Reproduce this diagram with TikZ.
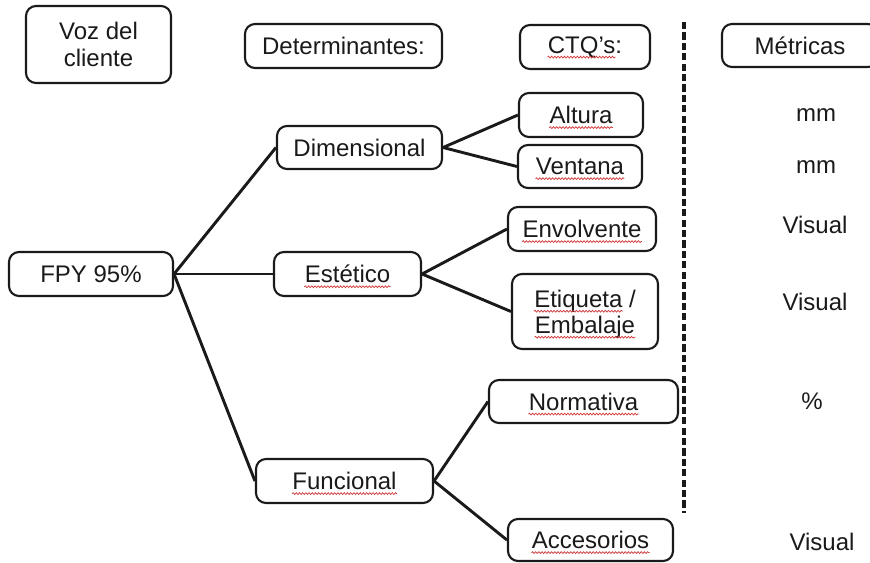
\documentclass[tikz,border=0pt]{standalone}
\usepackage{fontspec}
\setmainfont{Liberation Sans}
\usetikzlibrary{decorations.pathmorphing}
\definecolor{ink}{HTML}{1A1A1A}
\definecolor{spell}{HTML}{D03535}
\tikzset{
  box/.style={draw=ink, line width=1.05pt, rounded corners=5pt, inner sep=0pt},
  lbl/.style={inner sep=0pt, text=ink, font=\fontsize{12}{13.5}\selectfont, align=center},
  link/.style={draw=ink, line width=1.45pt},
  squig/.style={draw=spell, line width=0.35pt, decorate,
    decoration={snake, amplitude=0.45pt, segment length=1.6pt}},
  divider/.style={draw=ink, line width=1.7pt, dash pattern=on 3.6pt off 1.6pt},
}
\begin{document}
\begin{tikzpicture}[x=0.5pt, y=-0.5pt]
  \fill[white] (0,0) rectangle (870,562);
  \useasboundingbox (0,0) rectangle (870,562);
  \clip (0,0) rectangle (870,562);

  % header boxes
  \node[box, minimum width=72.5pt, minimum height=38.5pt] (voz) at (98.5,44.5) {};
  \node[lbl] (vozT) at (voz) {Voz del\\cliente};
  \node[box, minimum width=98.5pt, minimum height=22pt] (det) at (343.5,46) {};
  \node[lbl] (detT) at (det) {Determinantes:};
  \node[box, minimum width=65pt, minimum height=22pt] (ctq) at (585,47) {};
  \node[lbl] (ctqT) at (ctq) {CTQ’s:};
  \node[box, minimum width=78pt, minimum height=21.5pt] (met) at (800,45.5) {};
  \node[lbl] (metT) at (met) {Métricas};

  % root
  \node[box, minimum width=82pt, minimum height=22pt] (fpy) at (91,274) {};
  \node[lbl] (fpyT) at (fpy) {FPY 95\%};

  % determinants
  \node[box, minimum width=82.5pt, minimum height=21.5pt] (dim) at (359.5,147.5) {};
  \node[lbl] (dimT) at (dim) {Dimensional};
  \node[box, minimum width=73.5pt, minimum height=22pt] (est) at (347.5,274) {};
  \node[lbl] (estT) at (est) {Estético};
  \node[box, minimum width=88.5pt, minimum height=22pt] (fun) at (344.5,481) {};
  \node[lbl] (funT) at (fun) {Funcional};

  % CTQs
  \node[box, minimum width=62pt, minimum height=22pt] (alt) at (581,115) {};
  \node[lbl] (altT) at (alt) {Altura};
  \node[box, minimum width=62pt, minimum height=21.5pt] (ven) at (580,166.5) {};
  \node[lbl] (venT) at (ven) {Ventana};
  \node[box, minimum width=74pt, minimum height=22pt] (env) at (582,229) {};
  \node[lbl] (envT) at (env) {Envolvente};
  \node[box, minimum width=73pt, minimum height=37.5pt] (etq) at (585,311.5) {};
  \node[lbl] (etqA) at (585,301) {Etiqueta /};
  \node[lbl] (etqB) at (585,327) {Embalaje};
  \node[box, minimum width=94.5pt, minimum height=21.5pt] (nor) at (583.5,401.5) {};
  \node[lbl] (norT) at (nor) {Normativa};
  \node[box, minimum width=82.5pt, minimum height=21pt] (acc) at (590.5,540) {};
  \node[lbl] (accT) at (acc) {Accesorios};

  % metrics column
  \node[lbl] (m1) at (816,115) {mm};
  \node[lbl] (m2) at (816,167) {mm};
  \node[lbl] (m3) at (815,225) {Visual};
  \node[lbl] (m4) at (815,302) {Visual};
  \node[lbl] (m5) at (812,401) {\%};
  \node[lbl] (m6) at (822,542) {Visual};

  % separator
  \coordinate (sepTop) at (684,22);
  \coordinate (sepBot) at (684,513);
  \draw[divider] (sepTop) -- (sepBot);

  % tree connectors
  \draw[link] (fpy.east) -- (dim.west);
  \draw[link] (fpy.east) -- (est.west);
  \draw[link] (fpy.east) -- (fun.west);
  \draw[link] (dim.east) -- (alt.west);
  \draw[link] (dim.east) -- (ven.west);
  \draw[link] (est.east) -- (env.west);
  \draw[link] (est.east) -- (etq.west);
  \draw[link] (fun.east) -- (nor.west);
  \draw[link] (fun.east) -- (acc.west);

  % spell-check underlines
  \draw[squig] ([yshift=-2pt]ctqT.base west) -- ([xshift=-3.4pt,yshift=-2pt]ctqT.base east);
  \foreach \w in {altT,venT,estT,envT,etqB,norT,funT,accT}{
    \draw[squig] ([yshift=-2pt]\w.base west) -- ([yshift=-2pt]\w.base east);
  }
  \draw[squig] ([yshift=-2pt]etqA.base west) -- ([xshift=-6.7pt,yshift=-2pt]etqA.base east);
\end{tikzpicture}
\end{document}
